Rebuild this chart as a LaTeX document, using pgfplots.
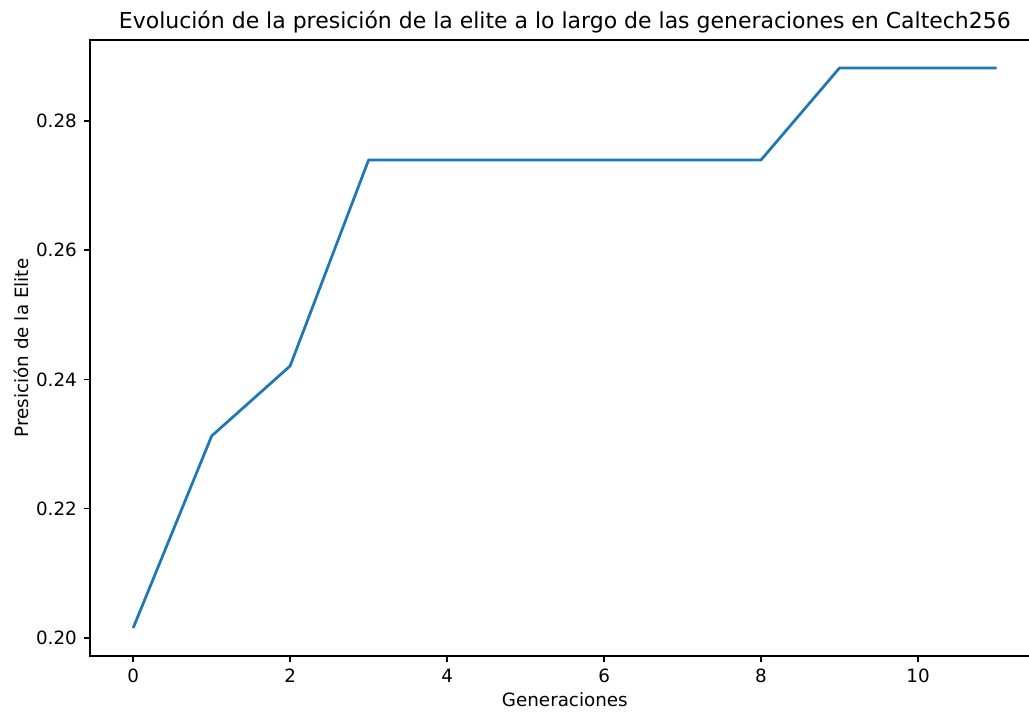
\documentclass[border=0pt]{standalone}
\usepackage{fontspec}
\setmainfont{DejaVu Sans}
\usepackage{pgfplots}
\pgfplotsset{compat=1.18}
\definecolor{mplblue}{HTML}{1F77B4}

\begin{document}
\begin{tikzpicture}
\begin{axis}[
  at={(0pt,0pt)}, anchor=south west,
  scale only axis,
  width=518.9pt, height=336.6pt,
  xmin=-0.55, xmax=11.55,
  ymin=0.19722, ymax=0.29253,
  xtick={0,2,4,6,8,10},
  ytick={0.20,0.22,0.24,0.26,0.28},
  /pgf/number format/assume math mode=true,
  yticklabel style={/pgf/number format/fixed, /pgf/number format/fixed zerofill, /pgf/number format/precision=2},
  tick pos=left,
  tick align=outside,
  major tick length=3.5pt,
  major tick style={black, line width=0.8pt},
  axis line style={black, line width=0.8pt},
  every tick label/.append style={font=\fontsize{10}{12}\selectfont},
  xticklabel style={inner sep=0pt, anchor=north},
  yticklabel style={inner sep=0pt, anchor=east},
  xticklabel shift=3.5pt,
  yticklabel shift=3.5pt,
  title={Evolución de la presición de la elite a lo largo de las generaciones en Caltech256},
  % the default title style already raises it by 6pt above the axis
  title style={font=\fontsize{12}{14}\selectfont, at={(axis description cs:0.5,1)}, anchor=base, inner sep=0pt},
  xlabel={Generaciones},
  xlabel style={font=\fontsize{10}{12}\selectfont, at={(axis description cs:0.5,-0.0828)}, anchor=base, inner sep=0pt},
  ylabel={Presición de la Elite},
  ylabel style={font=\fontsize{10}{12}\selectfont, at={(axis description cs:-0.06494,0.5)}, anchor=base, inner sep=0pt},
]
\addplot[mplblue, line width=1.5pt, line join=round, no markers] coordinates {
  (0,0.20155) (1,0.23126) (2,0.24209) (3,0.27397) (4,0.27397)
  (5,0.27397) (6,0.27397) (7,0.27397) (8,0.27397) (9,0.28820)
  (10,0.28820) (11,0.28820)
};
\end{axis}
\pgfresetboundingbox
\useasboundingbox (-49.18pt,-31.14pt) rectangle (513.07pt,358.44pt);
\end{tikzpicture}
\end{document}
